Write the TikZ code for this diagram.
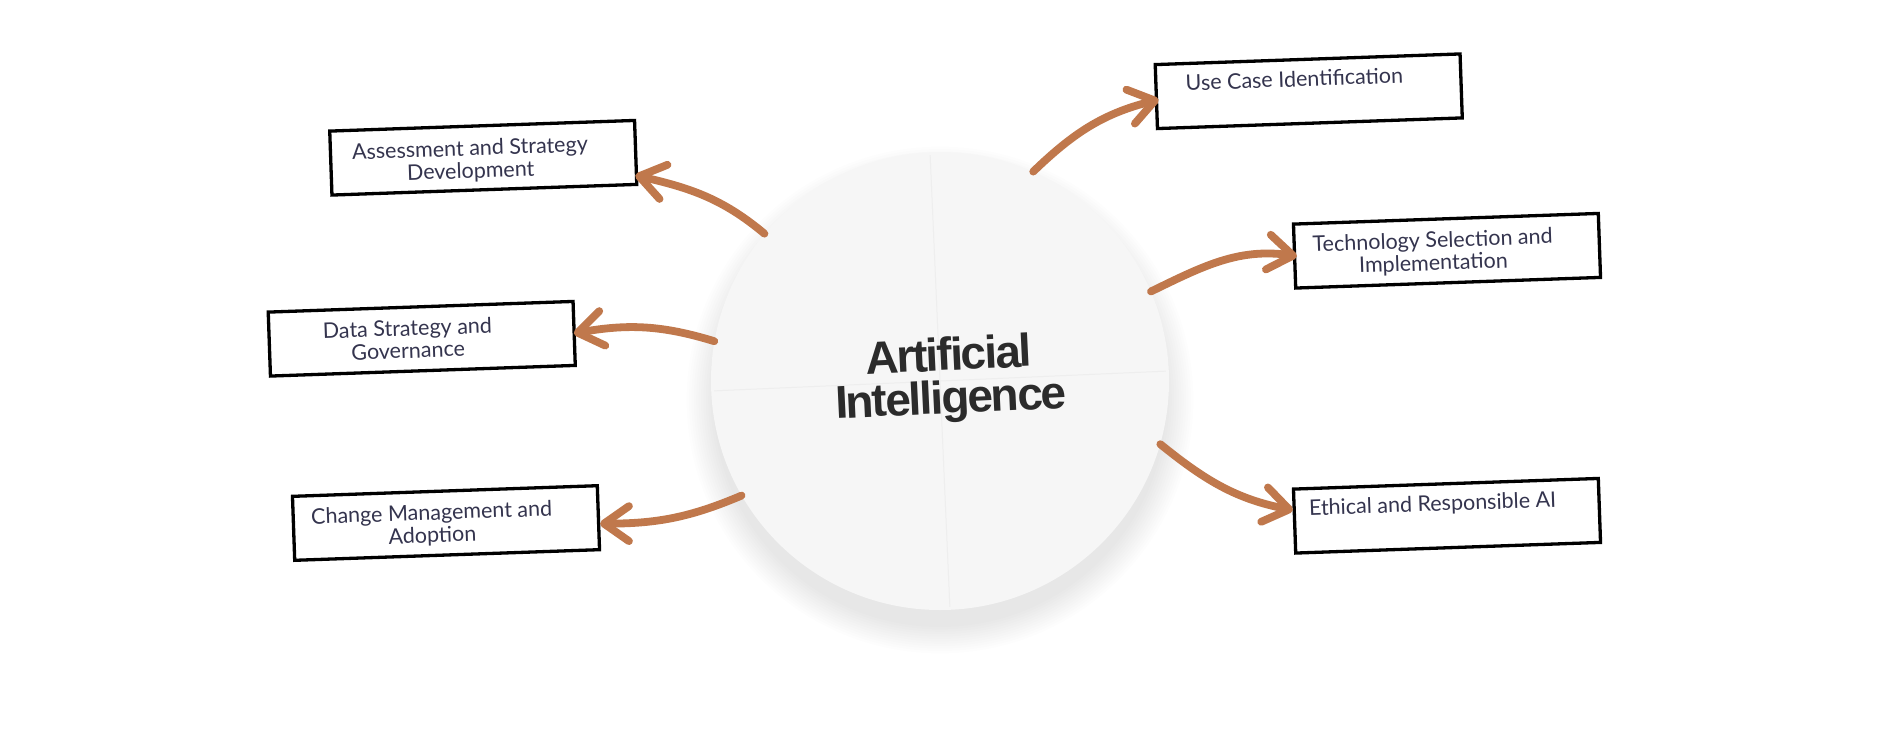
\documentclass[tikz,border=0pt]{standalone}
\usepackage{fontspec}
\newfontfamily\labelfont{Lato}
\newfontfamily\aifont[LetterSpace=-4.3]{Liberation Sans}
\usetikzlibrary{arrows.meta,calc}
\definecolor{brn}{RGB}{192,120,76}
\definecolor{txt}{RGB}{52,52,78}
\definecolor{aitxt}{RGB}{43,43,43}
\definecolor{disc}{RGB}{246,246,246}
\definecolor{seam}{RGB}{238,238,238}
\tikzset{
  box/.style={draw=black, line width=3.3pt, minimum width=305pt, minimum height=64pt,
    inner sep=0pt, fill=white, transform shape},
  lbl/.style={font=\labelfont\fontsize{21.5}{22.5}\selectfont, text=txt, align=center,
    inner sep=0pt, anchor=base, transform shape},
  arr/.style={draw=brn, line width=7.8pt, line cap=round,
    -{Straight Barb[length=25pt,width=35pt,round]}},
  aicircle/.style={circle, fill=disc, minimum size=458pt, inner sep=0pt},
  aitext/.style={font=\aifont\bfseries\fontsize{46}{43}\selectfont, text=aitxt, align=center, inner sep=0pt}
}
\begin{document}
\begin{tikzpicture}[x=1pt,y=1pt]
\useasboundingbox[fill=white] (0,0) rectangle (1901,-745);
% soft shadow of the disc
\foreach \k in {0,...,11}{
  \fill[black, opacity=0.008] (940,-400) circle[radius=227+2.4*\k];
}
% central disc
\node[aicircle] (ai) at (940,-381) {};
\draw[seam, line width=1pt] ($(ai.center)+(92.5:226)$) -- ($(ai.center)+(272.5:226)$);
\draw[seam, line width=1pt] ($(ai.center)+(182.5:226)$) -- ($(ai.center)+(2.5:226)$);
\node[aitext, rotate=2.7] (ait) at (950,-380) {Artificial\\Intelligence};
% boxes
\begin{scope}[shift={(483.25,-157.75)}, rotate=2]
  \node[box] (as) at (0,0) {};
  \node[lbl] (aslbl) at (-13,-20) {Assessment and Strategy\\Development};
\end{scope}
\begin{scope}[shift={(421.75,-338.75)}, rotate=2]
  \node[box] (ds) at (0,0) {};
  \node[lbl] (dslbl) at (-14,-19) {Data Strategy and\\Governance};
\end{scope}
\begin{scope}[shift={(446,-523)}, rotate=2]
  \node[box] (cm) at (0,0) {};
  \node[lbl] (cmlbl) at (-14,-19) {Change Management and\\Adoption};
\end{scope}
\begin{scope}[shift={(1308.75,-91.25)}, rotate=2]
  \node[box] (uc) at (0,0) {};
  \node[lbl] (uclbl) at (-14,5) {Use Case Identification};
\end{scope}
\begin{scope}[shift={(1447,-250.75)}, rotate=2]
  \node[box] (ts) at (0,0) {};
  \node[lbl] (tslbl) at (-14,-19) {Technology Selection and\\Implementation};
\end{scope}
\begin{scope}[shift={(1447,-515.75)}, rotate=2]
  \node[box] (er) at (0,0) {};
  \node[lbl] (erlbl) at (-14,5) {Ethical and Responsible AI};
\end{scope}
% connectors
\draw[arr] (ai.140.5) to[out=140, in=-13] ([xshift=-2pt,yshift=-23pt]as.east);
\draw[arr] (ai.170) to[out=163, in=10] ([xshift=-2pt]ds.east);
\draw[arr] (ai.210) to[out=203, in=0] ([yshift=-6pt]cm.east);
\draw[arr] (ai.66) to[out=44, in=194] ([xshift=4pt,yshift=-3pt]uc.west);
\draw[arr] (ai.23) to[out=26, in=172] ([xshift=4pt]ts.west);
\draw[arr] (ai.-16) to[out=-39, in=169] ([yshift=11pt]er.west);
\end{tikzpicture}
\end{document}
